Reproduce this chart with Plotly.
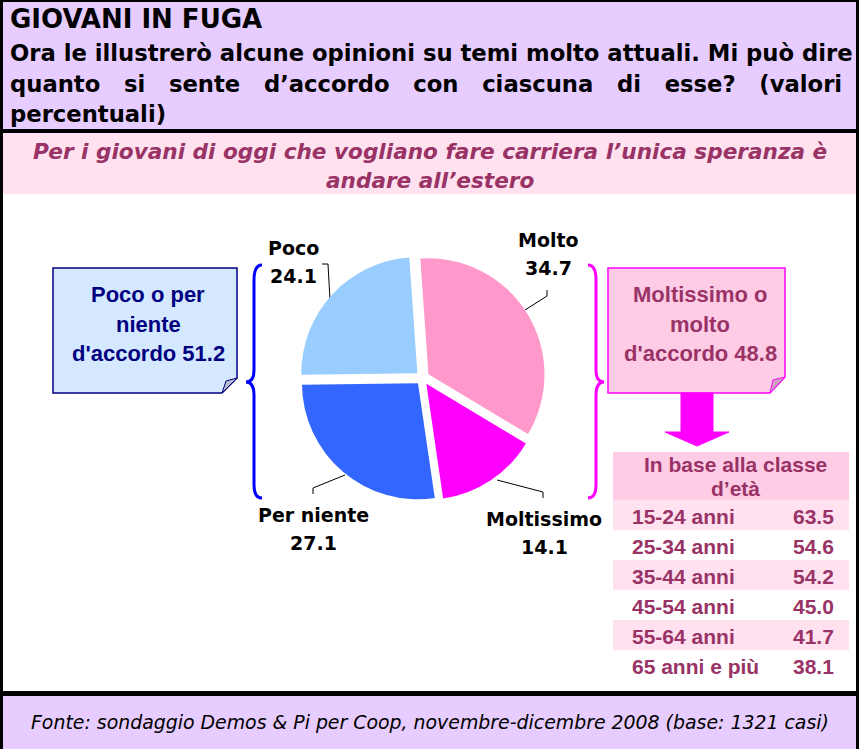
import plotly.graph_objects as go

title = "GIOVANI IN FUGA"
question_lines = [
    "Ora le illustrerò alcune opinioni su temi molto attuali. Mi può dire",
    "quanto si sente d’accordo con ciascuna di esse? (valori",
    "percentuali)",
]
statement_lines = [
    "Per i giovani di oggi che vogliano fare carriera l’unica speranza è",
    "andare all’estero",
]
source = "Fonte: sondaggio Demos & Pi per Coop, novembre-dicembre 2008 (base: 1321 casi)"

answers = ["Molto", "Moltissimo", "Per niente", "Poco"]
shares = [34.7, 14.1, 27.1, 24.1]
slice_colors = ["#FF99CC", "#FF00FF", "#3366FF", "#99CCFF"]

disagree_lines = ["Poco o per", "niente", "d'accordo"]
disagree_total = 51.2
agree_lines = ["Moltissimo o", "molto", "d'accordo"]
agree_total = 48.8

age_title = ["In base alla classe", "d’età"]
age_classes = ["15-24 anni", "25-34 anni", "35-44 anni", "45-54 anni", "55-64 anni", "65 anni e più"]
age_values = [63.5, 54.6, 54.2, 45.0, 41.7, 38.1]

W, H = 859, 749
LAVENDER = "#E6CCFF"
PINK_BAND = "#FFE1F0"
PLUM = "#993366"
ARIAL = "Liberation Sans, Arial"
WIDE = "DejaVu Sans"

fig = go.Figure()

fig.add_trace(go.Pie(
    labels=answers, values=shares, sort=False, direction="clockwise", rotation=-4,
    marker=dict(colors=slice_colors, line=dict(width=0)),
    pull=0.06, textinfo="none", hoverinfo="label+value", showlegend=False,
    domain=dict(x=[299 / W, 546 / W], y=[1 - 501 / H, 1 - 255 / H]),
))

shapes = []
annotations = []


def rect(x0, y0, x1, y1, color):
    shapes.append(dict(type="rect", xref="x", yref="y", x0=x0, y0=y0, x1=x1, y1=y1,
                       fillcolor=color, line=dict(width=0), layer="below"))


def path(d, color=None, line_color="black", width=1):
    shapes.append(dict(type="path", xref="x", yref="y", path=d, fillcolor=color,
                       line=dict(color=line_color, width=width), layer="below"))


def text(x, y, s, size, color="black", family=ARIAL, anchor="center"):
    annotations.append(dict(xref="x", yref="y", x=x, y=y, text=s, showarrow=False,
                            xanchor=anchor, yanchor="middle",
                            font=dict(size=size, color=color, family=family)))


# panels and frame
rect(0, 0, W, 131, LAVENDER)
rect(0, 133, W, 194, PINK_BAND)
rect(0, 696, W, H, LAVENDER)
rect(0, 129, W, 133, "black")
rect(0, 691, W, 696, "black")
rect(0, 0, 3, H, "black")
rect(856, 0, W, H, "black")
rect(0, 0, W, 2, "black")

# header
text(8, 19, "<b>" + title + "</b>", 26, family=WIDE, anchor="left")
header_y = [53, 84, 114]
nb = "\u00a0"
for i, line in enumerate(question_lines):
    s = line
    if i == 1:
        s = (nb * 3).join(line.split(" "))
    text(8, header_y[i], "<b>" + s + "</b>", 22.7, family=WIDE, anchor="left")

for i, line in enumerate(statement_lines):
    text(430, 151 + 29 * i, "<b><i>" + line + "</i></b>", 21.6, color=PLUM, family=WIDE)

text(430, 722, "<i>" + source + "</i>", 18.9, family=WIDE)

# pie labels with leader lines
label_pos = [(548, 240), (544, 519), (313, 515), (293, 248)]
for name, val, (lx, ly) in zip(answers, shares, label_pos):
    text(lx, ly, "<b>" + name + "</b>", 19, family=WIDE)
    text(lx, ly + 28, "<b>" + f"{val:.1f}" + "</b>", 19, family=WIDE)
path("M 547 290 L 547 296 L 525 310")
path("M 497 480 L 543 492 L 543 498")
path("M 345 475 L 313 488 L 313 494")
path("M 322 264 L 328 264 L 330 300")

# braces
path("M 262 265 Q 254 265 254 280 L 254 370 Q 254 382 246 382 "
     "Q 254 382 254 395 L 254 485 Q 254 498 262 498", line_color="#0000FF", width=3)
path("M 588 265 Q 596 265 596 280 L 596 370 Q 596 382 604 382 "
     "Q 596 382 596 395 L 596 485 Q 596 498 588 498", line_color="#FF00FF", width=3)

# callout boxes
path("M 53 268 L 237 268 L 237 378 L 222 393 L 53 393 Z", "#D4E8FF", "#000080", 1.5)
path("M 237 378 L 222 393 L 226 381 Z", "#B8BCCB", "#000080", 1)
path("M 608 268 L 785 268 L 785 377 L 770 393 L 608 393 Z", "#FFCCE6", "#FF00FF", 1.5)
path("M 785 377 L 770 393 L 773 380 Z", "#C8A6B8", "#FF00FF", 1)
box_y = [294, 324, 353]
for i, line in enumerate(disagree_lines):
    s = line + (f" {disagree_total:.1f}" if i == 2 else "")
    text(148, box_y[i], "<b>" + s + "</b>", 22, color="#000080")
for i, line in enumerate(agree_lines):
    s = line + (f" {agree_total:.1f}" if i == 2 else "")
    text(700, box_y[i], "<b>" + s + "</b>", 22, color=PLUM)

# arrow
path("M 681 393 L 713 393 L 713 432 L 729 432 L 697 446 L 665 432 L 681 432 Z",
     "#FF00FF", "#FF00FF", 1)

# age table
rect(613, 452, 849, 500, "#FFCCE6")
text(735, 464, "<b>" + age_title[0] + "</b>", 21, color=PLUM)
text(735, 488, "<b>" + age_title[1] + "</b>", 21, color=PLUM)
for i, (cls, val) in enumerate(zip(age_classes, age_values)):
    top = 500 + 30 * i
    if i % 2 == 0:
        rect(613, top, 849, top + 30, PINK_BAND)
    text(630, top + 16, "<b>" + cls + "</b>", 21, color=PLUM, anchor="left")
    text(836, top + 16, "<b>" + f"{val:.1f}" + "</b>", 21, color=PLUM, anchor="right")

fig.update_layout(
    width=W, height=H, margin=dict(l=0, r=0, t=0, b=0),
    paper_bgcolor="white", plot_bgcolor="white",
    xaxis=dict(range=[0, W], visible=False, fixedrange=True),
    yaxis=dict(range=[H, 0], visible=False, fixedrange=True),
    shapes=shapes, annotations=annotations,
)

fig.write_html("out.html", config={"displayModeBar": False},
               post_script="document.body.style.margin = '0';")
